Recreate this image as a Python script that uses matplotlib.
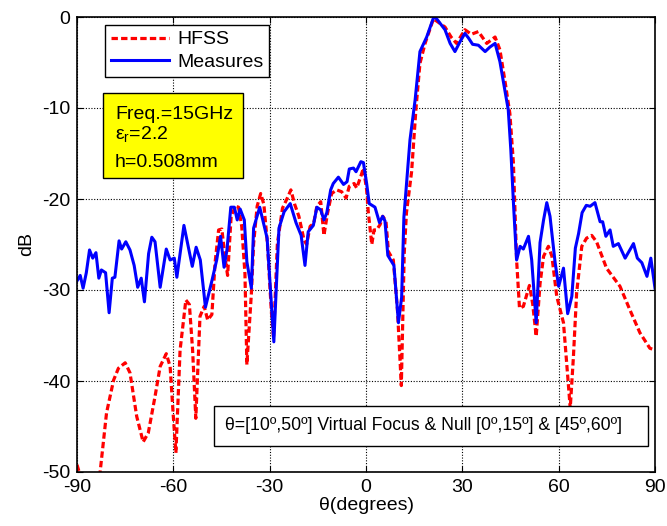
import matplotlib
matplotlib.use("Agg")
import matplotlib.pyplot as plt
from matplotlib.patches import Rectangle

plt.rcParams["font.family"] = ["Liberation Sans", "DejaVu Sans"]
plt.rcParams["axes.unicode_minus"] = False
plt.rcParams["mathtext.fontset"] = "custom"
plt.rcParams["mathtext.rm"] = "Liberation Sans"

# HFSS simulation (dB vs theta)
theta_hfss = [-90, -88.5, -84, -82.8, -80.8, -78.6, -77.1, -75.0, -73.5, -71.4, -69.4, -67.8,
              -65.7, -64.1, -62.2, -61.0, -60.0, -59.2, -57.9, -56.1, -55.0, -54.0, -53.0,
              -51.7, -50.4, -49.3, -48.0, -47.0, -45.9, -44.9, -43.8, -43.1, -42.0, -40.7,
              -39.7, -38.7, -37.7, -37.1, -35.7, -35.0, -33.9, -32.8, -31.8, -30.7, -29.5,
              -28.8, -27.6, -26.0, -24.5, -23.4, -22.2, -20.9, -19.3, -18.5, -17.4, -16.3,
              -15.3, -14.1, -13.1, -12.0, -10.7, -9.1, -7.6, -6.2, -5.2, -3.7, -2.9, -1.6,
              -0.8, 0.2, 0.7, 1.8, 2.5, 3.3, 4.4, 5.2, 6.2, 7.0, 8.5, 9.8, 11.0, 11.9, 12.6,
              14.2, 15.6, 16.8, 18.4, 21.0, 23.0, 24.6, 26.5, 28.2, 30.8, 32.8, 35.0, 37.6,
              40.2, 41.7, 43.3, 44.8, 45.9, 46.9, 47.8, 49.0, 50.9, 51.9, 53.0, 54.2, 55.3,
              56.8, 57.9, 59.4, 61.5, 63.0, 63.6, 64.6, 65.6, 67.2, 68.7, 70.3, 71.8, 74.9,
              79.1, 82.2, 85.3, 88.4, 90]
db_hfss = [-49.2, -51, -52, -50, -43.5, -39.9, -38.6, -38.0, -39.1, -43.9, -46.7, -45.7,
           -41.7, -38.4, -37.0, -38.4, -43.9, -47.9, -36.6, -31.1, -31.6, -36.6, -44.1,
           -32.9, -31.8, -33.3, -32.7, -27.0, -23.4, -23.3, -26.7, -28.4, -21.9, -20.8,
           -20.9, -23.0, -28.2, -38.2, -30.4, -24.9, -20.8, -19.4, -20.6, -24.9, -32.2,
           -35.3, -24.9, -21.0, -19.9, -19.0, -20.6, -21.9, -24.5, -25.0, -23.0, -22.7,
           -20.8, -20.3, -24.0, -21.6, -19.4, -19.0, -19.2, -19.9, -18.6, -18.3, -18.8, -17.5,
           -16.6, -19.0, -21.4, -25.0, -23.4, -23.4, -22.8, -21.9, -22.4, -25.8, -26.7, -32.2,
           -40.5, -26.0, -21.5, -17.0, -9.9, -5.1, -2.9, -0.2, -0.7, -1.1, -2.2, -2.9, -1.4,
           -1.9, -1.6, -2.9, -2.2, -3.6, -7.1, -10.6, -16.0, -26.7, -32.0, -31.8, -29.5,
           -31.5, -35.1, -29.3, -26.3, -25.2, -26.3, -30.7, -33.6, -40.3, -43.0, -37.3,
           -30.3, -25.2, -24.3, -24.0, -24.7, -27.6, -29.6, -32.2, -34.7, -36.4, -36.6]

# Measurements
theta_meas = [-90, -89, -88.1, -87.1, -86.1, -85.1, -84.1, -83.2, -82.4, -81.1, -80.0, -79.0,
              -78.2, -76.9, -76.1, -74.8, -73.5, -72.2, -71.1, -70.0, -69.0, -67.7, -66.7,
              -65.7, -64.1, -62.2, -61.0, -59.7, -58.9, -56.7, -55.3, -54.1, -52.9, -51.6,
              -50.0, -48.0, -46.5, -45.3, -44.2, -43.3, -42.1, -41.0, -40.1, -39.2, -37.9,
              -37.1, -35.7, -35.0, -33.1, -30.8, -28.7, -27.1, -25.5, -23.6, -21.8, -20.2,
              -19.0, -18.0, -16.4, -15.3, -14.1, -13.1, -12.2, -11.0, -10.2, -8.6, -7.0, -5.9,
              -5.2, -3.9, -3.1, -1.6, -0.8, 0.2, 1.0, 2.8, 4.2, 5.2, 5.9, 6.8, 8.7, 10.1,
              11.1, 11.8, 13.7, 15.3, 16.8, 18.9, 21.0, 21.8, 24.6, 26.2, 27.7, 29.3, 30.8,
              31.9, 33.2, 35.0, 37.1, 38.6, 40.2, 41.7, 43.6, 44.3, 45.1, 46.0, 46.9, 48.0,
              49.0, 50.6, 51.6, 53.0, 54.2, 55.3, 56.3, 57.3, 58.9, 60.0, 61.5, 62.8, 64.1,
              65.2, 66.2, 67.3, 68.6, 69.8, 71.3, 72.9, 73.7, 74.7, 76.0, 77.0, 78.6, 80.7,
              83.3, 84.5, 85.9, 87.5, 88.7, 90]
db_meas = [-29.0, -28.4, -29.8, -28.1, -25.6, -26.5, -25.9, -28.7, -27.8, -28.1, -32.5, -28.7,
           -28.6, -24.6, -25.5, -24.7, -25.6, -27.3, -29.7, -28.7, -31.3, -26.0, -24.2,
           -24.7, -29.7, -25.5, -26.7, -26.5, -28.6, -22.9, -25.3, -27.4, -25.3, -26.7,
           -31.9, -29.0, -26.7, -24.1, -27.5, -25.6, -20.9, -20.9, -22.3, -21.1, -22.3,
           -26.9, -29.8, -23.2, -20.9, -24.3, -35.7, -23.2, -21.4, -20.5, -22.6, -24.0,
           -27.3, -23.6, -22.9, -20.9, -21.2, -22.3, -21.5, -19.0, -18.3, -17.6, -18.4, -18.1,
           -16.7, -16.6, -17.0, -15.9, -16.0, -18.3, -20.5, -20.9, -22.6, -21.9, -22.4, -26.2,
           -27.3, -33.6, -30.8, -22.0, -13.5, -9.1, -3.8, -2.2, -0.1, -0.1, -1.4, -2.9, -3.8,
           -2.7, -1.8, -2.3, -3.0, -3.1, -3.8, -3.3, -2.9, -4.9, -8.8, -10.2, -14.6, -21.0,
           -26.7, -25.2, -25.5, -24.1, -26.7, -33.6, -24.8, -22.3, -20.4, -21.9, -27.0, -29.6,
           -27.6, -32.6, -30.7, -25.4, -23.8, -21.5, -20.7, -20.8, -20.4, -22.5, -22.5, -24.1,
           -23.4, -25.2, -24.9, -26.5, -24.9, -26.5, -27.0, -28.5, -26.5, -29.8]

xticks = [-90, -60, -30, 0, 30, 60, 90]
yticks = [-50, -40, -30, -20, -10, 0]

W, H = 667, 526
fig = plt.figure(figsize=(W / 100, H / 100), dpi=100)
L, R, T, B = 77, 655, 17, 472
ax = fig.add_axes([L / W, 1 - B / H, (R - L) / W, (B - T) / H])

def px(x, y):
    # figure pixel -> axes fraction
    return (x - L) / (R - L), (B - y) / (B - T)

ax.plot(theta_hfss, db_hfss, color="red", lw=2.3, linestyle=(0, (2.0, 1.0)), label="HFSS")
ax.plot(theta_meas, db_meas, color="blue", lw=2.2, label="Measures")

ax.set_xlim(-90, 90)
ax.set_ylim(-50, 0)
ax.set_xticks(xticks)
ax.set_yticks(yticks)
ax.grid(True, color="black", linestyle=(0, (1, 1.5)), linewidth=0.8)
ax.tick_params(direction="in", top=True, right=True, labelsize=14, length=4, pad=5)
for s in ax.spines.values():
    s.set_linewidth(1.2)

ax.set_xlabel("θ(degrees)", fontsize=14, labelpad=1)
ax.set_ylabel("dB", fontsize=14, labelpad=5)

lx, ly = px(105, 25)
leg = ax.legend(loc="upper left", bbox_to_anchor=(lx, ly), borderaxespad=0,
                fancybox=False, edgecolor="black", framealpha=1, fontsize=14,
                handlelength=3.0, handletextpad=0.4, borderpad=0.3, labelspacing=0.25)
leg.get_frame().set_linewidth(1.0)

# yellow parameters box
x0, y0 = px(103, 178)
x1, y1 = px(243, 93)
ax.add_patch(Rectangle((x0, y0), x1 - x0, y1 - y0, transform=ax.transAxes,
                       facecolor="yellow", edgecolor="black", lw=1.0, zorder=5))
tx, _ = px(115, 0)
for yy, s in [(119, "Freq.=15GHz"), (140, "ε$_\\mathregular{r}$=2.2"), (167, "h=0.508mm")]:
    ax.text(tx, px(0, yy)[1], s, transform=ax.transAxes, fontsize=14,
            va="baseline", ha="left", zorder=6)

# annotation box
x0, y0 = px(214, 446)
x1, y1 = px(648, 406)
ax.add_patch(Rectangle((x0, y0), x1 - x0, y1 - y0, transform=ax.transAxes,
                       facecolor="white", edgecolor="black", lw=1.0, zorder=5))
ax.text(px(225, 0)[0], px(0, 426)[1], "θ=[10º,50º] Virtual Focus & Null [0º,15º] & [45º,60º]",
        transform=ax.transAxes, fontsize=12.7, va="center", ha="left", zorder=6)

fig.savefig("out.png", dpi=100)
